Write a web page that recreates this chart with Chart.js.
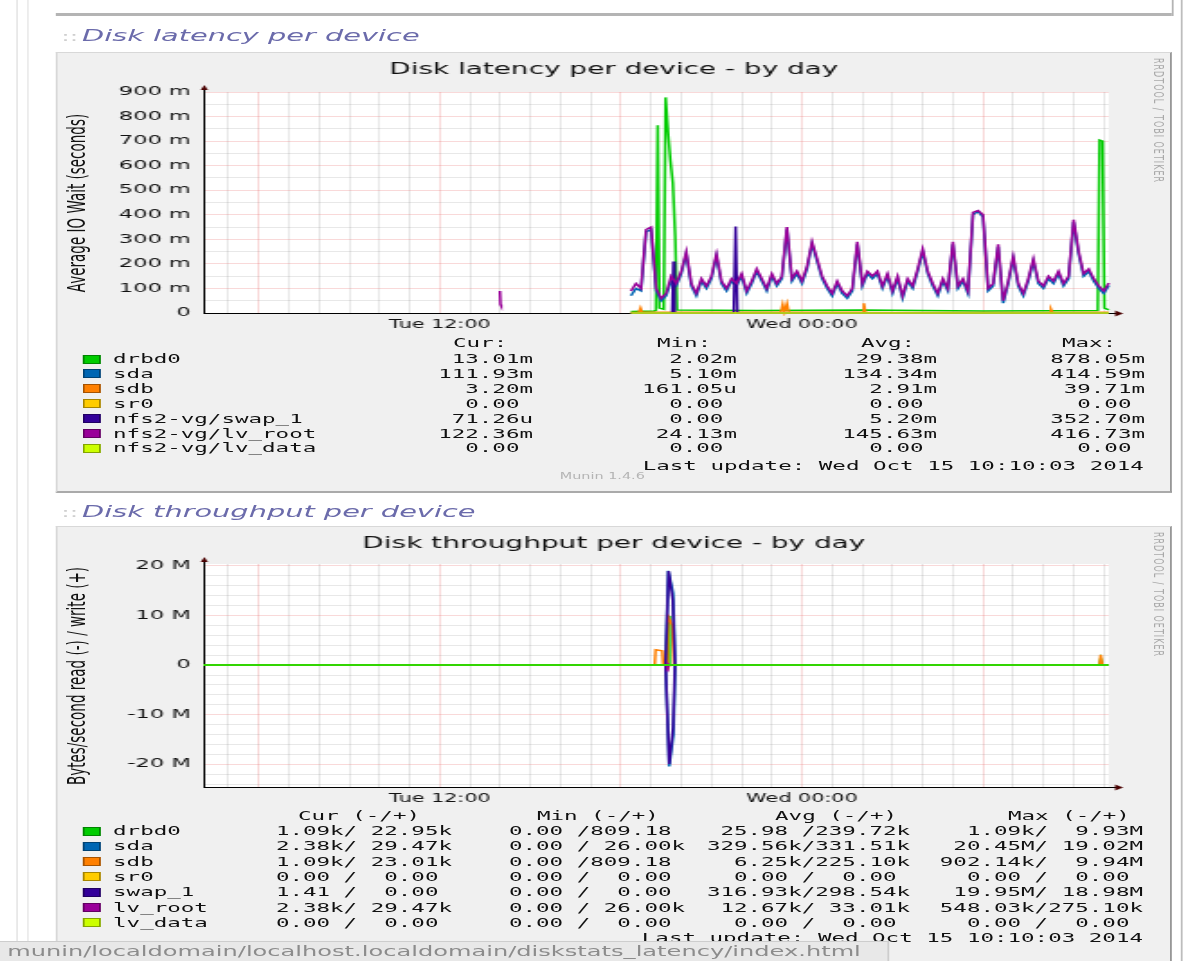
<!DOCTYPE html>
<html>
<head>
<meta charset="utf-8">
<script src="https://cdn.jsdelivr.net/npm/chart.js@4"></script>
<style>
html,body{margin:0;padding:0;background:#fff;overflow:hidden;width:1187px;height:961px}
/* the reference screenshot is stretched sideways, so the whole page is drawn narrow and scaled */
#stage{position:absolute;left:0;top:0;width:660px;height:961px;transform:scaleX(1.8);transform-origin:0 0;font-family:"DejaVu Sans",sans-serif}
.abs{position:absolute}
.frame{position:absolute;background:#f0f0f0;box-sizing:border-box;border-top:1px solid #d8d8d8;border-left:1px solid #d8d8d8;border-right:1px solid #979797;border-bottom:2px solid #aaa}
.head{position:absolute;font-style:italic;font-size:16px;line-height:20px;color:#6b6bab;white-space:nowrap}
.dots{position:absolute;font-size:14px;line-height:20px;color:#cfcfcf}
.cell{position:absolute;font-family:"DejaVu Sans Mono",monospace;font-size:12.5px;line-height:16px;white-space:pre;color:#111}
.swatch{position:absolute;width:10px;height:9px;box-sizing:border-box;border:1px solid rgba(0,0,0,.35)}
.ytitle{position:absolute;writing-mode:vertical-rl;transform:translate(-50%,-50%) rotate(180deg);font-size:13.5px;color:#111;white-space:nowrap}
.wm{position:absolute;writing-mode:vertical-rl;font-size:8px;letter-spacing:1px;color:#a9a9a9;white-space:nowrap}
.status{position:absolute;left:0;top:941px;width:489px;height:22px;background:#e8e8e8;border-top:1px solid #cdcdcd;border-right:1px solid #cdcdcd;font-size:13.4px;line-height:20px;color:#8c8c8c;padding-left:4px;white-space:nowrap}
</style>
</head>
<body>
<div id="stage">
  <div class="abs" style="left:9px;top:0;width:1px;height:961px;background:#e8e8e8"></div>
  <div class="abs" style="left:14.5px;top:0;width:1px;height:961px;background:#ececec"></div>
  <div class="abs" style="left:656px;top:0;width:1px;height:961px;background:#bdbdbd"></div>
  <div class="abs" style="left:30.5px;top:13px;width:620.5px;height:3px;background:#b4b4b4"></div>
  <div class="abs" style="left:650.5px;top:0;width:1px;height:16px;background:#b4b4b4"></div>

  <div class="dots" style="left:34px;top:26px">::</div>
  <div class="head" style="left:45.6px;top:26px">Disk latency per device</div>
  <div class="frame" style="left:30.5px;top:52px;width:620.5px;height:441px"></div>
  <div class="wm" style="left:639px;top:58px">RRDTOOL / TOBI OETIKER</div>

  <div class="dots" style="left:34px;top:502px">::</div>
  <div class="head" style="left:45.6px;top:502px">Disk throughput per device</div>
  <div class="frame" style="left:30.5px;top:526px;width:620.5px;height:460px"></div>
  <div class="wm" style="left:639px;top:532px">RRDTOOL / TOBI OETIKER</div>

  <div class="abs" style="left:30.5px;top:52px"><canvas id="latency" width="620" height="292"></canvas></div>
  <div class="abs" style="left:30.5px;top:526px"><canvas id="throughput" width="620" height="292"></canvas></div>

  <div class="ytitle" style="left:42.2px;top:202.5px">Average IO Wait (seconds)</div>
  <div class="ytitle" style="left:42.2px;top:675.5px">Bytes/second read (-) / write (+)</div>

  <div id="legends"></div>
  <div class="status">munin/localdomain/localhost.localdomain/diskstats_latency/index.html</div>
</div>

<script>
// time axis, hours counted from Tue 00:00
const xMin = 4.1667;          // Tue 04:10
const xMax = 34.1667;         // Wed 10:10
const timeTicks = [12, 24];
const timeLabels = ["Tue 12:00", "Wed 00:00"];

const devColors = ["#00cc00", "#0066b3", "#ff8000", "#ffcc00", "#330099", "#990099", "#ccff00"];

// ---- latency (seconds) ----
const latTickLabels = ["0", "100 m", "200 m", "300 m", "400 m", "500 m", "600 m", "700 m", "800 m", "900 m"];

// lv_root and sda: 10 minute samples from Tue 18:20
const latStart = 18.3333;
const latStep = 1 / 6;
const latRoot = [
  0.09, 0.12, 0.10, 0.34, 0.35, 0.10, 0.06, 0.08, 0.15, 0.12, 0.17, 0.25,
  0.12, 0.08, 0.14, 0.11, 0.15, 0.24, 0.13, 0.10, 0.14, 0.12, 0.16, 0.09,
  0.13, 0.18, 0.14, 0.10, 0.16, 0.12, 0.15, 0.35, 0.14, 0.17, 0.13, 0.19,
  0.29, 0.22, 0.15, 0.11, 0.08, 0.13, 0.09, 0.07, 0.10, 0.29, 0.12, 0.17,
  0.15, 0.17, 0.11, 0.16, 0.09, 0.15, 0.07, 0.14, 0.11, 0.18, 0.26, 0.17,
  0.12, 0.08, 0.14, 0.10, 0.29, 0.11, 0.14, 0.09, 0.41, 0.417, 0.40, 0.10,
  0.12, 0.28, 0.05, 0.13, 0.23, 0.12, 0.08, 0.14, 0.22, 0.13, 0.11, 0.15,
  0.13, 0.17, 0.12, 0.15, 0.38, 0.25, 0.16, 0.18, 0.14, 0.11, 0.09, 0.122
];
const latSda = [
  0.07, 0.10, 0.09, 0.33, 0.34, 0.09, 0.05, 0.07, 0.13, 0.11, 0.16, 0.24,
  0.11, 0.07, 0.13, 0.10, 0.14, 0.23, 0.12, 0.09, 0.13, 0.11, 0.15, 0.08,
  0.12, 0.17, 0.13, 0.09, 0.15, 0.11, 0.14, 0.34, 0.13, 0.16, 0.12, 0.18,
  0.28, 0.21, 0.14, 0.10, 0.07, 0.12, 0.08, 0.06, 0.09, 0.28, 0.11, 0.16,
  0.14, 0.16, 0.10, 0.15, 0.08, 0.14, 0.06, 0.13, 0.10, 0.17, 0.25, 0.16,
  0.11, 0.07, 0.13, 0.09, 0.28, 0.10, 0.13, 0.08, 0.40, 0.414, 0.39, 0.09,
  0.11, 0.27, 0.04, 0.12, 0.22, 0.11, 0.07, 0.13, 0.21, 0.12, 0.10, 0.14,
  0.12, 0.16, 0.11, 0.14, 0.37, 0.24, 0.15, 0.17, 0.13, 0.10, 0.08, 0.112
];
// the short lv_root blip around Tue 14:00
const latRootEarly = [[13.99, 0.09], [14.01, 0.035], [14.03, 0.03]];
// sparse series: [hour, seconds]
const latDrbd = [
  [18.3333, 0.006], [19.10, 0.008], [19.16, 0.01], [19.22, 0.765], [19.28, 0.02], [19.42, 0.015],
  [19.48, 0.878], [19.56, 0.74], [19.64, 0.62], [19.72, 0.53], [19.80, 0.31], [19.86, 0.012],
  [22.5, 0.01], [26.0, 0.012], [30.0, 0.008], [33.80, 0.01], [33.86, 0.704], [33.96, 0.70],
  [34.02, 0.02], [34.1667, 0.013]
];
const latSdb = [
  [18.3333, 0.002], [18.60, 0.003], [18.65, 0.02], [18.70, 0.003], [23.30, 0.003], [23.36, 0.035],
  [23.42, 0.004], [23.50, 0.038], [23.56, 0.003], [26.00, 0.003], [26.05, 0.0397], [26.10, 0.003],
  [32.20, 0.002], [32.25, 0.015], [32.30, 0.002], [34.1667, 0.0032]
];
const latSr0 = [[18.3333, 0], [34.1667, 0]];
const latSwap = [
  [18.3333, 0], [19.70, 0], [19.74, 0.21], [19.78, 0], [21.74, 0], [21.80, 0.3527], [21.86, 0], [34.1667, 0.0001]
];
const latLvData = [[18.3333, 0], [34.1667, 0]];

const latNames = ["drbd0", "sda", "sdb", "sr0", "nfs2-vg/swap_1", "nfs2-vg/lv_root", "nfs2-vg/lv_data"];
const latCur = ["13.01m", "111.93m", "3.20m", "0.00 ", "71.26u", "122.36m", "0.00 "];
const latMin = ["2.02m", "5.10m", "161.05u", "0.00 ", "0.00 ", "24.13m", "0.00 "];
const latAvg = ["29.38m", "134.34m", "2.91m", "0.00 ", "5.20m", "145.63m", "0.00 "];
const latMax = ["878.05m", "414.59m", "39.71m", "0.00 ", "352.70m", "416.73m", "0.00 "];

// ---- throughput (bytes/s, read negative, write positive) ----
const tpTickLabels = ["-20 M", "-10 M", "0", "10 M", "20 M"];
const tpDrbdW = [[4.1667, 0], [19.50, 0], [19.56, 9.93e6], [19.61, 0], [33.85, 0], [33.90, 1.2e6], [33.95, 0], [34.1667, 0]];
const tpDrbdR = [[4.1667, 0], [34.1667, 0]];
const tpSdaW = [[4.1667, 0], [19.48, 0], [19.57, 19.02e6], [19.73, 14.5e6], [19.80, 0], [34.1667, 0]];
const tpSdaR = [[4.1667, 0], [19.48, 0], [19.60, -20.45e6], [19.74, -14.0e6], [19.80, 0], [34.1667, 0]];
const tpSdbW = [
  [4.1667, 0], [19.12, 0], [19.15, 3.1e6], [19.37, 2.9e6], [19.40, 0], [19.52, 0], [19.55, 9.94e6],
  [19.70, 8.0e6], [19.76, 0], [33.86, 0], [33.90, 2.1e6], [33.95, 0], [34.1667, 0]
];
const tpSdbR = [[4.1667, 0], [19.50, 0], [19.55, -0.902e6], [19.60, 0], [34.1667, 0]];
const tpSr0W = [[4.1667, 0], [34.1667, 0]];
const tpSr0R = [[4.1667, 0], [34.1667, 0]];
const tpSwapW = [[4.1667, 0], [19.48, 0], [19.58, 18.98e6], [19.72, 13.0e6], [19.79, 0], [34.1667, 0]];
const tpSwapR = [[4.1667, 0], [19.48, 0], [19.60, -19.95e6], [19.73, -12.5e6], [19.79, 0], [34.1667, 0]];
const tpRootW = [[4.1667, 0], [19.50, 0], [19.55, 0.275e6], [19.60, 0], [34.1667, 0]];
const tpRootR = [[4.1667, 0], [19.50, 0], [19.55, -0.548e6], [19.60, 0], [34.1667, 0]];
const tpDataW = [[4.1667, 0], [34.1667, 0]];
const tpDataR = [[4.1667, 0], [34.1667, 0]];

const tpNames = ["drbd0", "sda", "sdb", "sr0", "swap_1", "lv_root", "lv_data"];
const tpCur = ["1.09k/ 22.95k", "2.38k/ 29.47k", "1.09k/ 23.01k", "0.00 /  0.00 ", "1.41 /  0.00 ", "2.38k/ 29.47k", "0.00 /  0.00 "];
const tpMin = ["0.00 /809.18 ", "0.00 / 26.00k", "0.00 /809.18 ", "0.00 /  0.00 ", "0.00 /  0.00 ", "0.00 / 26.00k", "0.00 /  0.00 "];
const tpAvg = [" 25.98 /239.72k", "329.56k/331.51k", "  6.25k/225.10k", "  0.00 /  0.00 ", "316.93k/298.54k", " 12.67k/ 33.01k", "  0.00 /  0.00 "];
const tpMax = ["  1.09k/  9.93M", " 20.45M/ 19.02M", "902.14k/  9.94M", "  0.00 /  0.00 ", " 19.95M/ 18.98M", "548.03k/275.10k", "  0.00 /  0.00 "];

const lastUpdate = "Last update: Wed Oct 15 10:10:03 2014";

// ---------------------------------------------------------------
const minorGrid = "rgba(140,140,140,0.2)";
const majorGrid = "rgba(230,110,110,0.26)";

const pts = arr => arr.map(p => ({ x: p[0], y: p[1] }));
const sampled = arr => arr.map((v, i) => ({ x: latStart + i * latStep, y: v }));

// white plot area + rrdtool style arrows
const munin = {
  id: "munin",
  beforeDraw(chart) {
    const a = chart.chartArea, ctx = chart.ctx;
    ctx.save();
    ctx.fillStyle = "#fff";
    ctx.fillRect(a.left, a.top, a.right - a.left, a.bottom - a.top);
    ctx.restore();
  },
  afterDraw(chart) {
    const a = chart.chartArea, ctx = chart.ctx;
    ctx.save();
    ctx.strokeStyle = "#000";
    ctx.lineWidth = 1;
    ctx.beginPath();
    ctx.moveTo(a.right, a.bottom + 0.5); ctx.lineTo(a.right + 5, a.bottom + 0.5);
    ctx.moveTo(a.left + 0.5, a.top); ctx.lineTo(a.left + 0.5, a.top - 3);
    ctx.stroke();
    ctx.fillStyle = "#4a0000";
    ctx.beginPath();
    ctx.moveTo(a.right + 8, a.bottom + 0.5); ctx.lineTo(a.right + 3.5, a.bottom - 2.5); ctx.lineTo(a.right + 3.5, a.bottom + 3.5);
    ctx.fill();
    ctx.beginPath();
    ctx.moveTo(a.left + 0.5, a.top - 7); ctx.lineTo(a.left - 1.5, a.top - 2); ctx.lineTo(a.left + 2.5, a.top - 2);
    ctx.fill();
    ctx.restore();
  }
};

Chart.defaults.font.family = '"DejaVu Sans", sans-serif';
Chart.defaults.color = "#111";

function lineSet(label, data, color, order) {
  return { label, data, borderColor: color, backgroundColor: color, borderWidth: 1.5,
           pointRadius: 0, tension: 0, spanGaps: false, order, clip: 3 };
}

const xScale = {
  type: "linear", min: xMin, max: xMax,
  afterBuildTicks: s => {
    const t = [];
    for (let h = 5; h <= 34; h++) t.push({ value: h });
    s.ticks = t;
  },
  ticks: {
    autoSkip: false, maxRotation: 0, padding: 5, font: { size: 11.5 },
    callback: v => { const k = timeTicks.indexOf(v); return k >= 0 ? timeLabels[k] : ""; }
  },
  grid: { drawTicks: false, color: c => (c.tick && c.tick.value % 6 === 0) ? majorGrid : minorGrid },
  border: { color: "#000", width: 1 },
  afterFit: s => { s.height = 31; }
};
const spacer = {
  position: "right", display: true,
  grid: { display: false }, ticks: { display: false }, border: { display: false },
  afterFit: s => { s.width = 35; }
};

function baseOptions(title, titlePad, yScale) {
  return {
    responsive: false, animation: false, devicePixelRatio: 1,
    layout: { padding: 0 },
    plugins: {
      legend: { display: false }, tooltip: { enabled: false },
      title: { display: true, text: title, color: "#111", font: { size: 15.5, weight: "normal" }, padding: titlePad }
    },
    scales: { x: xScale, y: yScale, y2: spacer }
  };
}

// latency chart (later devices on top, like rrdtool)
const latSets = [
  lineSet(latNames[0], pts(latDrbd), devColors[0], 0),
  lineSet(latNames[1], sampled(latSda), devColors[1], -1),
  lineSet(latNames[2], pts(latSdb), devColors[2], -2),
  lineSet(latNames[3], pts(latSr0), devColors[3], -3),
  lineSet(latNames[4], pts(latSwap), devColors[4], -4),
  lineSet(latNames[5], pts(latRootEarly).concat([{ x: 14.1, y: null }], sampled(latRoot)), devColors[5], -5),
  lineSet(latNames[6], pts(latLvData), devColors[6], -6)
];
new Chart(document.getElementById("latency"), {
  type: "line",
  data: { datasets: latSets },
  options: baseOptions("Disk latency per device - by day", { top: 8.7, bottom: 12.7 }, {
    min: 0, max: 0.9,
    afterBuildTicks: s => {
      const t = [];
      for (let k = 0; k <= 900; k += 50) t.push({ value: k / 1000 });
      s.ticks = t;
    },
    ticks: { autoSkip: false, padding: 7, font: { size: 12.5 },
      callback: v => { const k = Math.round(v * 1000); return k % 100 === 0 ? latTickLabels[k / 100] : ""; } },
    grid: { drawTicks: false, color: c => (c.tick && Math.round(c.tick.value * 1000) % 100 === 0) ? majorGrid : minorGrid },
    border: { color: "#000", width: 1 },
    afterFit: s => { s.width = 82; }
  }),
  plugins: [munin]
});

// throughput chart: drbd0 read (flat zero) drawn last so the zero line stays green
const tpPairs = [[tpDrbdW, tpDrbdR], [tpSdaW, tpSdaR], [tpSdbW, tpSdbR], [tpSr0W, tpSr0R],
                 [tpSwapW, tpSwapR], [tpRootW, tpRootR], [tpDataW, tpDataR]];
const tpSets = [];
tpPairs.forEach((p, d) => {
  tpSets.push(lineSet(tpNames[d] + " write", pts(p[0]), devColors[d], -d));
  tpSets.push(lineSet(tpNames[d] + " read", pts(p[1]), devColors[d], d === 0 ? -10 : -d));
});
new Chart(document.getElementById("throughput"), {
  type: "line",
  data: { datasets: tpSets },
  options: baseOptions("Disk throughput per device - by day", { top: 8.7, bottom: 10.7 }, {
    min: -24.6e6, max: 20.4e6,
    afterBuildTicks: s => {
      const t = [];
      for (let k = -24; k <= 20; k += 2) t.push({ value: k * 1e6 });
      s.ticks = t;
    },
    ticks: { autoSkip: false, padding: 7, font: { size: 12.5 },
      callback: v => { const k = Math.round(v / 1e6); return k % 10 === 0 ? tpTickLabels[k / 10 + 2] : ""; } },
    grid: { drawTicks: false, color: c => (c.tick && Math.round(c.tick.value / 1e6) % 10 === 0) ? majorGrid : minorGrid },
    border: { color: "#000", width: 1 },
    afterFit: s => { s.width = 82; }
  }),
  plugins: [munin]
});

// legends (stage coordinates: x already divided by the 1.8 stretch)
const STAGE_W = 660;
const legendBox = document.getElementById("legends");
function put(text, x, y, alignRight, extra) {
  const d = document.createElement("div");
  d.className = "cell";
  d.textContent = text;
  d.style.top = (y - 8) + "px";
  if (alignRight) d.style.right = (STAGE_W - x) + "px"; else d.style.left = x + "px";
  if (extra) Object.assign(d.style, extra);
  legendBox.appendChild(d);
}
function swatch(color, y) {
  const s = document.createElement("div");
  s.className = "swatch";
  s.style.left = "46.1px";
  s.style.top = (y - 4.5) + "px";
  s.style.background = color;
  legendBox.appendChild(s);
}

// latency legend
put("Cur:", 251.7, 343); put("Min:", 365, 343); put("Avg:", 478.3, 343); put("Max:", 590, 343);
latNames.forEach((n, i) => {
  const y = 359 + 14.9 * i;
  swatch(devColors[i], y);
  put(n, 62.8, y);
  put(latCur[i], 296.1, y, true);
  put(latMin[i], 409.4, y, true);
  put(latAvg[i], 520.6, y, true);
  put(latMax[i], 636.1, y, true);
});
put(lastUpdate, 635.5, 466, true);
put("Munin 1.4.6", 311, 477, false, { fontFamily: '"DejaVu Sans",sans-serif', fontSize: "8px", color: "#b4b4b4" });

// throughput legend
put("Cur (-/+)", 165.6, 816); put("Min (-/+)", 298.3, 816); put("Avg (-/+)", 430.6, 816); put("Max (-/+)", 560, 816);
tpNames.forEach((n, i) => {
  const y = 831 + 15.3 * i;
  swatch(devColors[i], y);
  put(n, 62.8, y);
  put(tpCur[i], 251.1, y, true);
  put(tpMin[i], 380.6, y, true);
  put(tpAvg[i], 505.6, y, true);
  put(tpMax[i], 635, y, true);
});
put(lastUpdate, 635, 938, true);
</script>
</body>
</html>
